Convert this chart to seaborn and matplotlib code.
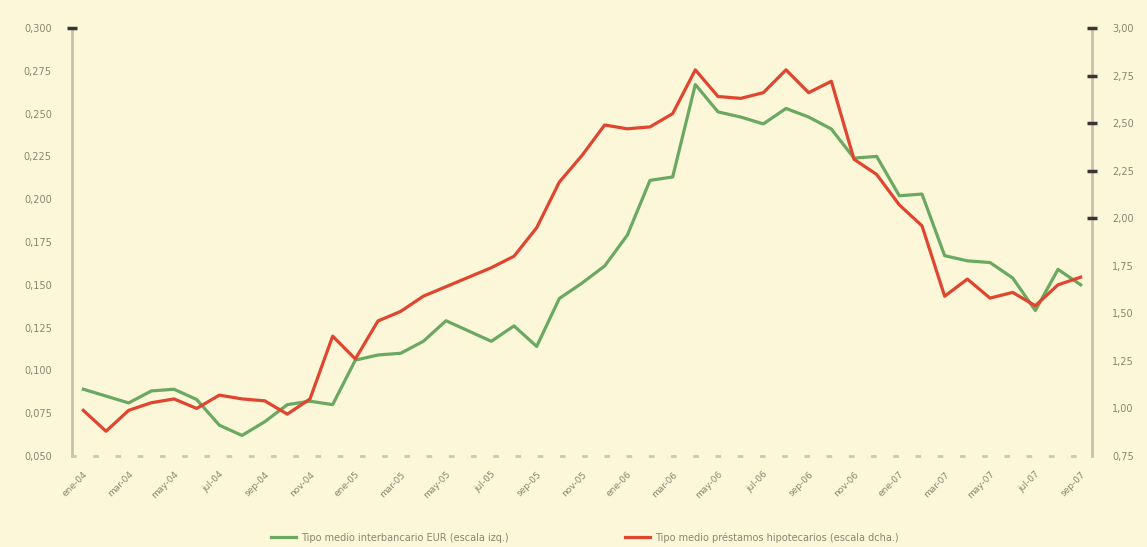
import pandas as pd
import matplotlib
matplotlib.use("Agg")
import matplotlib.pyplot as plt
import seaborn as sns

# Datos (mensuales)
meses = ['ene', 'feb', 'mar', 'abr', 'may', 'jun', 'jul', 'ago', 'sep', 'oct', 'nov', 'dic']
periodos = [f"{meses[i % 12]}-{4 + i // 12:02d}" for i in range(45)]

serie_verde = [0.089, 0.085, 0.081, 0.088, 0.089, 0.083, 0.068, 0.062, 0.070, 0.080,
               0.082, 0.080, 0.106, 0.109, 0.110, 0.117, 0.129, 0.123, 0.117, 0.126,
               0.114, 0.142, 0.151, 0.161, 0.179, 0.211, 0.213, 0.267, 0.251, 0.248,
               0.244, 0.253, 0.248, 0.241, 0.224, 0.225, 0.202, 0.203, 0.167, 0.164,
               0.163, 0.154, 0.135, 0.159, 0.150]

serie_roja = [0.99, 0.88, 0.99, 1.03, 1.05, 1.00, 1.07, 1.05, 1.04, 0.97,
              1.05, 1.38, 1.26, 1.46, 1.51, 1.59, 1.64, 1.69, 1.74, 1.80,
              1.95, 2.19, 2.33, 2.49, 2.47, 2.48, 2.55, 2.78, 2.64, 2.63,
              2.66, 2.78, 2.66, 2.72, 2.31, 2.23, 2.07, 1.96, 1.59, 1.68,
              1.58, 1.61, 1.54, 1.65, 1.69]

ticks_izq = [0.050, 0.075, 0.100, 0.125, 0.150, 0.175, 0.200, 0.225, 0.250, 0.275, 0.300]
ticks_der = [0.75, 1.00, 1.25, 1.50, 1.75, 2.00, 2.25, 2.50, 2.75, 3.00]

etiqueta_verde = 'Tipo medio interbancario EUR (escala izq.)'
etiqueta_roja = 'Tipo medio préstamos hipotecarios (escala dcha.)'

df = pd.DataFrame({'idx': range(len(periodos)), 'periodo': periodos,
                   'verde': serie_verde, 'roja': serie_roja})

fondo = '#FBF7D8'
gris = '#C9C1AE'
texto = '#8C8472'
verde = '#6BA862'
rojo = '#E0452F'

fig = plt.figure(figsize=(11.47, 5.47), dpi=100, facecolor=fondo)
ax = fig.add_axes([72 / 1147, 91 / 547, 1020 / 1147, 428 / 547])
ax.set_facecolor(fondo)
ax2 = ax.twinx()

sns.lineplot(data=df, x='idx', y='verde', ax=ax, color=verde, linewidth=2.3, label=etiqueta_verde, legend=False)
sns.lineplot(data=df, x='idx', y='roja', ax=ax2, color=rojo, linewidth=2.3, label=etiqueta_roja, legend=False)

ax.set_xlim(-0.5, len(periodos) - 0.5)
ax.set_ylim(0.05, 0.30)
ax2.set_ylim(0.75, 3.00)

ax.set_yticks(ticks_izq)
ax.set_yticklabels([f"{v:.3f}".replace('.', ',') for v in ticks_izq], fontsize=7, color=texto)
ax2.set_yticks(ticks_der)
ax2.set_yticklabels([f"{v:.2f}".replace('.', ',') for v in ticks_der], fontsize=7, color=texto)

pos = list(range(0, len(periodos), 2))
ax.set_xticks(pos)
ax.set_xticklabels([periodos[i] for i in pos], rotation=45, ha='right',
                   rotation_mode='anchor', fontsize=6.5, color=texto)
ax.tick_params(axis='x', length=0, pad=10)
ax.tick_params(axis='y', length=7, width=2.5, color='#3A3530', direction='inout', pad=11)
for i, t in enumerate(ax.yaxis.get_major_ticks()):
    if i < len(ticks_izq) - 1:
        t.tick1line.set_visible(False)
ax2.tick_params(axis='y', length=7, width=2.5, color='#3A3530', direction='inout', pad=11)
for i, t in enumerate(ax2.yaxis.get_major_ticks()):
    if i < 5:
        t.tick2line.set_visible(False)

ax.set_xlabel('')
ax.set_ylabel('')
ax2.set_ylabel('')

for a in (ax, ax2):
    a.spines['top'].set_visible(False)
    for lado in ('left', 'right'):
        a.spines[lado].set_color(gris)
        a.spines[lado].set_linewidth(2)
        a.spines[lado].set_zorder(0.5)
    a.spines['bottom'].set_color('#CFC7A8')
    a.spines['bottom'].set_linewidth(2)
    a.spines['bottom'].set_linestyle((0, (1, 7)))
ax2.spines['bottom'].set_visible(False)
ax2.spines['left'].set_visible(False)
ax.spines['right'].set_visible(False)

h1, l1 = ax.get_legend_handles_labels()
h2, l2 = ax2.get_legend_handles_labels()
fig.legend(h1 + h2, l1 + l2, loc='lower left', bbox_to_anchor=(262 / 1147, -0.008),
           ncol=2, frameon=False, fontsize=7, labelcolor=texto,
           handlelength=2.6, columnspacing=12, handletextpad=0.5)

fig.savefig('out.png', dpi=100, facecolor=fondo)
